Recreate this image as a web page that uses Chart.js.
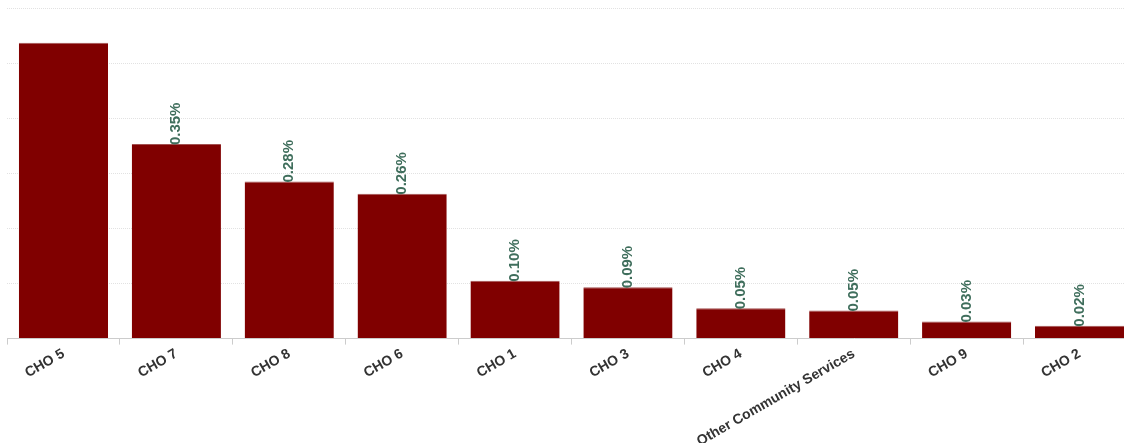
<!DOCTYPE html>
<html>
<head>
<meta charset="utf-8">
<script src="https://cdn.jsdelivr.net/npm/chart.js@4/dist/chart.umd.min.js"></script>
<style>
  html, body { margin: 0; padding: 0; background: #fff; overflow: hidden; }
  #wrap { width: 1140px; height: 451px; position: relative; }
</style>
</head>
<body>
<div id="wrap"><canvas id="chart"></canvas></div>
<script>
// chart data (share of total, in %)
const categories = ['CHO 5', 'CHO 7', 'CHO 8', 'CHO 6', 'CHO 1', 'CHO 3', 'CHO 4', 'Other Community Services', 'CHO 9', 'CHO 2'];
const shareValues = [0.537, 0.353, 0.285, 0.263, 0.1049, 0.093, 0.0549, 0.051, 0.031, 0.0235];
const yTicks = [0, 0.1, 0.2, 0.3, 0.4, 0.5, 0.6];

const barColor = '#800000';
const labelColor = '#3f6e5c';

// draws the rotated % labels above bars, skips ones that would run out the top
const barLabels = {
    id: 'barLabels',
    afterDatasetsDraw(chart) {
        const ctx = chart.ctx;
        const area = chart.chartArea;
        const meta = chart.getDatasetMeta(0);
        ctx.save();
        ctx.font = 'bold 15px "Liberation Sans", Arial, sans-serif';
        ctx.fillStyle = labelColor;
        ctx.textAlign = 'left';
        ctx.textBaseline = 'middle';
        meta.data.forEach((bar, i) => {
            const txt = shareValues[i].toFixed(2) + '%';
            const w = ctx.measureText(txt).width;
            const y = bar.y + 1;
            if (y - w - 4 < area.top) return;
            ctx.save();
            ctx.translate(bar.x, y);
            ctx.rotate(-Math.PI / 2);
            ctx.fillText(txt, 0, 0);
            ctx.restore();
        });
        ctx.restore();
    }
};

new Chart(document.getElementById('chart'), {
    type: 'bar',
    data: {
        labels: categories,
        datasets: [{
            data: shareValues,
            backgroundColor: barColor,
            borderColor: '#a35050',
            borderWidth: { top: 1, left: 0, right: 0, bottom: 0 },
            categoryPercentage: 1.0,
            barPercentage: 0.79
        }]
    },
    options: {
        responsive: true,
        maintainAspectRatio: false,
        animation: false,
        layout: { padding: { top: 8, left: 7, right: 4, bottom: 0 } },
        plugins: {
            legend: { display: false },
            tooltip: { enabled: false }
        },
        scales: {
            x: {
                grid: {
                    drawOnChartArea: false,
                    color: '#cccccc',
                    tickLength: 6,
                    offset: true
                },
                border: { color: '#cccccc' },
                ticks: {
                    color: '#333333',
                    font: { family: '"Liberation Sans", Arial, sans-serif', size: 14, weight: 'bold' },
                    minRotation: 30,
                    maxRotation: 30,
                    autoSkip: false,
                    padding: 1
                }
            },
            y: {
                min: yTicks[0],
                max: yTicks[yTicks.length - 1],
                afterBuildTicks: (axis) => { axis.ticks = yTicks.map(v => ({ value: v })); },
                ticks: { display: false },
                border: { display: false, dash: [1, 1] },
                grid: {
                    color: '#e2e2e2',
                    lineWidth: 1,
                    drawTicks: false,
                    tickLength: 0
                },
                afterFit: (axis) => { axis.width = 0; }
            }
        }
    },
    plugins: [barLabels]
});
</script>
</body>
</html>
